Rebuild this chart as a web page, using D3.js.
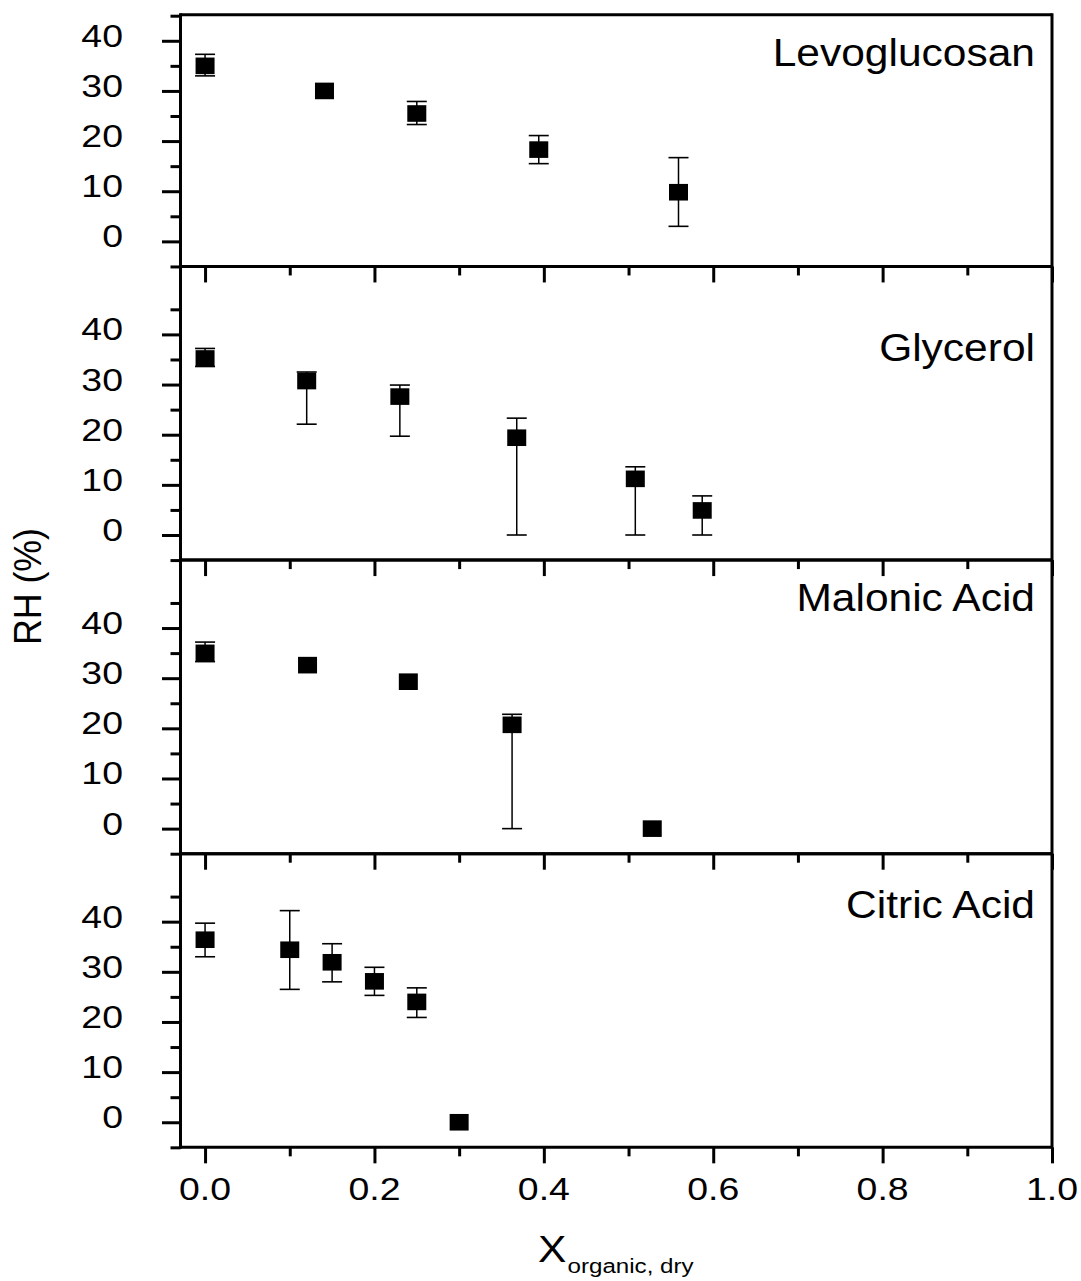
<!DOCTYPE html>
<html>
<head>
<meta charset="utf-8">
<script src="https://cdn.jsdelivr.net/npm/d3@7"></script>
<style>
  html, body { margin: 0; padding: 0; background: #fff; }
  svg { display: block; }
  text { font-family: "Liberation Sans", Arial, sans-serif; fill: #000; }
</style>
</head>
<body>
<svg id="chart" width="1081" height="1281"></svg>
<script>
// ---------------- data ----------------
const panelNames = ["Levoglucosan", "Glycerol", "Malonic Acid", "Citric Acid"];
const xTickValues = [0, 0.2, 0.4, 0.6, 0.8, 1.0];
const xTickLabels = ["0.0", "0.2", "0.4", "0.6", "0.8", "1.0"];
const xMinorTicks = [0.1, 0.3, 0.5, 0.7, 0.9];
const yTickValues = [0, 10, 20, 30, 40];
const yTickLabels = ["0", "10", "20", "30", "40"];
const yMinorTicks = [-5, 5, 15, 25, 35, 45];
const yMaxByPanel = [45.2, 53.55, 53.55, 53.55];

const levoX  = [0, 0.141, 0.25, 0.394, 0.559];
const levoY  = [35.0, 30.0, 25.5, 18.3, 9.8];
const levoHi = [37.3, 30.0, 27.9, 21.1, 16.7];
const levoLo = [33.0, 30.0, 23.3, 15.5, 3.0];

const glyX  = [0, 0.12, 0.23, 0.368, 0.508, 0.587];
const glyY  = [35.2, 30.7, 27.6, 19.4, 11.2, 4.9];
const glyHi = [37.2, 32.5, 29.9, 23.3, 13.6, 7.8];
const glyLo = [33.6, 22.1, 19.7, 0, 0, 0];

const malX  = [0, 0.121, 0.24, 0.3625, 0.528];
const malY  = [35.05, 32.6, 29.3, 20.7, 0];
const malHi = [37.2, 32.6, 29.3, 22.8, 0];
const malLo = [33.3, 32.6, 29.3, 0, 0];

const citX  = [0, 0.1, 0.15, 0.2, 0.25, 0.3];
const citY  = [36.4, 34.4, 31.9, 28.1, 24.0, 0];
const citHi = [39.7, 42.2, 35.6, 30.9, 26.8, 0];
const citLo = [33.0, 26.5, 28.0, 25.3, 20.9, 0];

const seriesX  = [levoX, glyX, malX, citX];
const seriesY  = [levoY, glyY, malY, citY];
const seriesHi = [levoHi, glyHi, malHi, citHi];
const seriesLo = [levoLo, glyLo, malLo, citLo];

// ---------------- layout ----------------
const svg = d3.select("#chart");
const left = 180.5, right = 1052;
const top0 = 14.7;
const yMin = -5;
const pxPerUnit = 5.015;
const labelOffsets = [51, 95, 51, 64.5]; // label baseline below panel top
const stretch = 1.17;

const x = d3.scaleLinear().domain([-0.029, 1.0]).range([left, right]);

let panelTop = top0;
const panels = [];
for (let i = 0; i < 4; i++) {
  const h = (yMaxByPanel[i] - yMin) * pxPerUnit;
  const y = d3.scaleLinear().domain([yMin, yMaxByPanel[i]]).range([panelTop + h, panelTop]);
  panels.push({ top: panelTop, bottom: panelTop + h, y });
  panelTop += h;
}

const gAll = svg.append("g");

panels.forEach((p, i) => {
  const g = gAll.append("g");
  const y = p.y;

  // error bars
  const idx = d3.range(seriesX[i].length);
  const eb = g.append("g");
  idx.forEach(k => {
    const hi = seriesHi[i][k], lo = seriesLo[i][k];
    if (hi === lo) return;
    const cx = x(seriesX[i][k]);
    eb.append("line").attr("x1", cx).attr("x2", cx)
      .attr("y1", y(hi)).attr("y2", y(lo))
      .attr("stroke", "#000").attr("stroke-width", 1.5);
    [hi, lo].forEach(v => {
      eb.append("line").attr("x1", cx - 10).attr("x2", cx + 10)
        .attr("y1", y(v)).attr("y2", y(v))
        .attr("stroke", "#000").attr("stroke-width", 1.6);
    });
  });

  // markers
  g.append("g").selectAll("rect").data(idx).join("rect")
    .attr("x", k => x(seriesX[i][k]) - 9.5)
    .attr("y", k => y(seriesY[i][k]) - 8.3)
    .attr("width", 19).attr("height", 16.6)
    .attr("fill", "#000");

  // left axis (major + minor)
  const yMajor = d3.axisLeft(y).tickValues(yTickValues).tickSize(18.5).tickFormat("");
  const yMinor = d3.axisLeft(y).tickValues(yMinorTicks.filter(v => v >= yMin && v <= yMaxByPanel[i])).tickSize(10).tickFormat("");
  [yMajor, yMinor].forEach(ax => {
    const a = g.append("g").attr("transform", `translate(${left},0)`).call(ax);
    a.select(".domain").remove();
    a.selectAll(".tick line").attr("stroke", "#000").attr("stroke-width", 3);
  });

  // y tick labels
  yTickValues.forEach((v, k) => {
    g.append("text")
      .attr("transform", `translate(123,${y(v) + 6}) scale(${stretch},1)`)
      .attr("text-anchor", "end")
      .attr("font-size", 32)
      .text(yTickLabels[k]);
  });

  // bottom axis ticks (outward)
  const xMajor = d3.axisBottom(x).tickValues(xTickValues).tickSize(16).tickFormat("");
  const xMinor = d3.axisBottom(x).tickValues(xMinorTicks).tickSize(9).tickFormat("");
  [xMajor, xMinor].forEach(ax => {
    const a = g.append("g").attr("transform", `translate(0,${p.bottom})`).call(ax);
    a.select(".domain").remove();
    a.selectAll(".tick line").attr("stroke", "#000").attr("stroke-width", 3);
  });

  // frame: horizontal lines
  g.append("line").attr("x1", left).attr("x2", right)
    .attr("y1", p.top).attr("y2", p.top).attr("stroke", "#000").attr("stroke-width", 3);
  g.append("line").attr("x1", left).attr("x2", right)
    .attr("y1", p.bottom).attr("y2", p.bottom).attr("stroke", "#000").attr("stroke-width", 3);

  // panel label
  g.append("text")
    .attr("transform", `translate(1035,${p.top + labelOffsets[i]}) scale(1.09,1)`)
    .attr("text-anchor", "end")
    .attr("font-size", 39)
    .text(panelNames[i]);
});

// vertical frame lines
const bottomAll = panels[3].bottom;
gAll.append("line").attr("x1", left).attr("x2", left).attr("y1", top0 - 1.5).attr("y2", bottomAll + 1.5)
  .attr("stroke", "#000").attr("stroke-width", 3);
gAll.append("line").attr("x1", right).attr("x2", right).attr("y1", top0 - 1.5).attr("y2", bottomAll + 1.5)
  .attr("stroke", "#000").attr("stroke-width", 3);

// x tick labels (bottom only)
xTickValues.forEach((v, k) => {
  gAll.append("text")
    .attr("transform", `translate(${x(v)},${bottomAll + 53}) scale(${stretch},1)`)
    .attr("text-anchor", "middle")
    .attr("font-size", 32)
    .text(xTickLabels[k]);
});

// axis titles
gAll.append("text")
  .attr("transform", "translate(41,586.5) rotate(-90) scale(0.94,1)")
  .attr("text-anchor", "middle")
  .attr("font-size", 38)
  .text("RH (%)");

const xt = gAll.append("text")
  .attr("transform", "translate(538,1261.7) scale(1.15,1)")
  .attr("font-size", 37);
xt.append("tspan").text("X");
xt.append("tspan").attr("dx", 1).attr("dy", 11.5).attr("font-size", 21).text("organic, dry");
</script>
</body>
</html>
